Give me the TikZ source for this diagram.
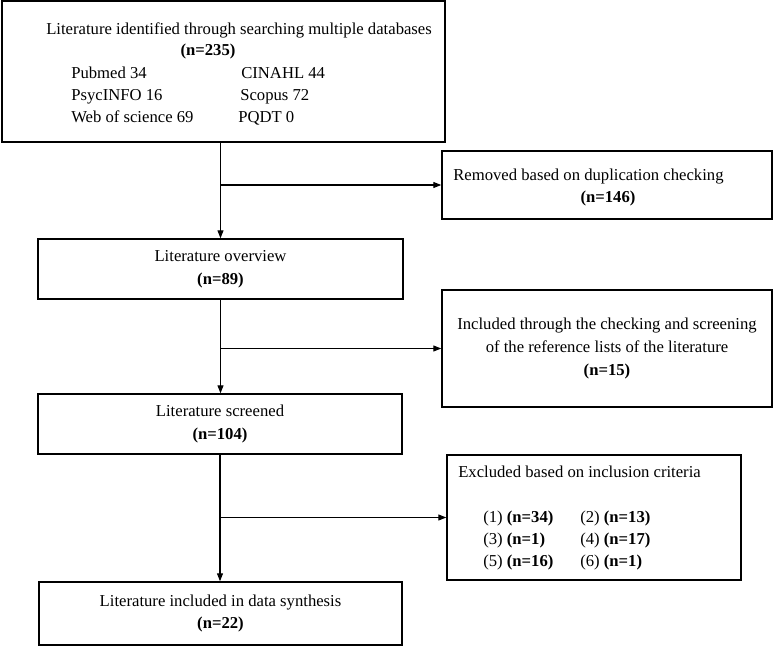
\documentclass[tikz,border=0pt]{standalone}
\usepackage{fontspec}
\setmainfont{Liberation Serif}
\usetikzlibrary{arrows.meta}

\begin{document}
\begin{tikzpicture}[x=0.75pt,y=-0.75pt,
  box/.style={draw,line width=1.1pt,inner sep=0pt,align=center,
    font=\fontsize{12.5}{17}\selectfont},
  txt/.style={inner sep=0pt,font=\fontsize{12.5}{17}\selectfont},
  >={Triangle[length=6pt,width=4.5pt]}]
\useasboundingbox (0,0) rectangle (773,646);

% boxes
\node[box,minimum width=332.25pt,minimum height=105.75pt] (lit1) at (223.5,71.5) {};
\node[box,minimum width=247.5pt,minimum height=51pt] (rem1) at (607,185) {};
\node[box,minimum width=273.75pt,minimum height=45pt] (over1) at (220.5,269) {Literature overview\\\textbf{(n=89)}};
\node[box,minimum width=247.5pt,minimum height=87.75pt] (inc1) at (607,348.5) {Included through the checking and screening\\of the reference lists of the literature\\\textbf{(n=15)}};
\node[box,minimum width=273pt,minimum height=45pt] (scr1) at (220,424) {Literature screened\\\textbf{(n=104)}};
\node[box,minimum width=220.5pt,minimum height=93.75pt] (exc1) at (594,517.5) {};
\node[box,minimum width=272.25pt,minimum height=47.25pt] (fin1) at (220.5,613.5) {Literature included in data synthesis\\\textbf{(n=22)}};

% texts of the top box
\node[txt,anchor=base west] (l1) at (46,34) {Literature identified through searching multiple databases};
\node[txt,anchor=base] (l2) at (208,55) {\textbf{(n=235)}};
\node[txt,anchor=base west] (pub) at (71,78) {Pubmed 34};
\node[txt,anchor=base west] (cin) at (241,78) {CINAHL 44};
\node[txt,anchor=base west] (psy) at (71,100) {PsycINFO 16};
\node[txt,anchor=base west] (sco) at (240,100) {Scopus 72};
\node[txt,anchor=base west] (web) at (71,122) {Web of science 69};
\node[txt,anchor=base west] (pqd) at (238,122) {PQDT 0};

% removed
\node[txt,anchor=base west] (r1) at (453,180) {Removed based on duplication checking};
\node[txt,anchor=base] (r2) at (608,202) {\textbf{(n=146)}};

% excluded
\node[txt,anchor=base west] (e0) at (458,477) {Excluded based on inclusion criteria};
\node[txt,anchor=base west] (e1) at (483,522) {(1) \textbf{(n=34)}};
\node[txt,anchor=base west] (e2) at (580,522) {(2) \textbf{(n=13)}};
\node[txt,anchor=base west] (e3) at (483,544) {(3) \textbf{(n=1)}};
\node[txt,anchor=base west] (e4) at (580,544) {(4) \textbf{(n=17)}};
\node[txt,anchor=base west] (e5) at (483,566) {(5) \textbf{(n=16)}};
\node[txt,anchor=base west] (e6) at (580,566) {(6) \textbf{(n=1)}};

% arrows
\draw [->, line width=0.8pt] (lit1.south -| over1.north) -- (over1.north);
\draw [->, line width=0.8pt] (rem1.west -| over1.north) -- (rem1.west);
\draw [->, line width=0.8pt] (over1.south) -- (over1.south |- scr1.north);
\draw [->, line width=0.8pt] (inc1.west -| over1.south) -- (inc1.west);
\draw [->, line width=0.8pt] (scr1.south) -- (scr1.south |- fin1.north);
\draw [->, line width=0.8pt] (exc1.west -| scr1.south) -- (exc1.west);
\end{tikzpicture}
\end{document}
